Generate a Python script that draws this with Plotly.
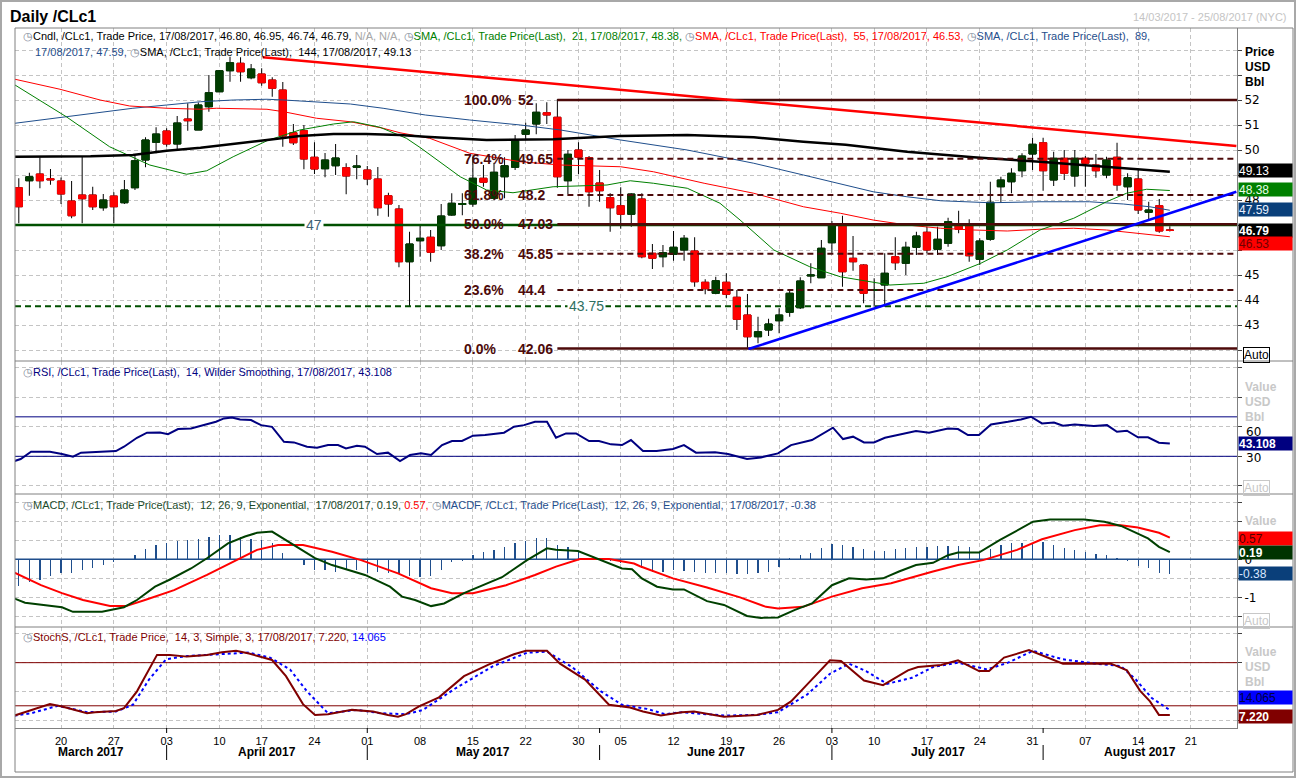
import pandas as pd
import plotly.graph_objects as go
from plotly.subplots import make_subplots

# ---------------- data ----------------
HOLIDAYS = ["2017-04-14", "2017-05-29", "2017-07-04"]
trading_days = [d.strftime("%Y-%m-%d") for d in pd.bdate_range("2017-03-14", "2017-08-25")
                if d.strftime("%Y-%m-%d") not in HOLIDAYS]
pos = {d: i for i, d in enumerate(trading_days)}

opens = [48.49, 48.77, 49.04, 48.85, 48.76, 47.96, 48.20, 48.20, 47.69, 48.16,
         47.89, 48.49, 49.60, 50.31, 50.76, 50.24, 51.24, 50.80, 51.73, 52.33,
         53.17, 53.47, 52.89, 53.04, 52.80, 52.40, 50.69, 50.77, 49.71, 49.25,
         49.37, 49.29, 49.31, 49.20, 48.84, 48.17, 47.64, 45.53, 46.37, 46.51,
         46.17, 47.40, 47.82, 47.84, 48.87, 48.07, 48.93, 49.31, 50.63, 51.04,
         51.49, 51.31, 48.77, 50.00, 49.69, 48.68, 48.09, 47.77, 47.43, 48.04,
         45.87, 45.73, 45.83, 46.00, 45.96, 44.71, 44.27, 44.71, 44.11, 43.40,
         42.53, 42.80, 43.17, 43.51, 43.69, 44.96, 44.89, 46.29, 47.04, 45.67,
         45.40, 44.38, 44.60, 45.73, 45.47, 46.11, 46.71, 46.03, 46.27, 46.97,
         46.96, 45.63, 46.43, 48.53, 48.73, 49.17, 49.84, 50.29, 48.80, 49.67,
         48.96, 49.67, 49.40, 49.00, 49.71, 48.53, 48.84, 47.51, 47.77, 46.80]
highs = [48.87, 49.09, 49.71, 49.24, 48.90, 48.76, 49.73, 48.53, 48.24, 48.31,
         48.80, 49.76, 50.51, 50.91, 50.87, 51.36, 51.87, 51.90, 53.00, 53.20,
         53.73, 53.71, 53.44, 53.27, 52.91, 52.72, 51.04, 51.00, 50.31, 49.88,
         50.24, 49.47, 49.80, 49.36, 49.32, 48.29, 47.80, 46.73, 47.04, 46.80,
         47.84, 48.27, 48.27, 49.73, 49.40, 49.49, 49.71, 50.60, 51.09, 51.87,
         51.91, 52.04, 50.00, 50.31, 49.76, 49.20, 48.27, 48.51, 48.27, 48.27,
         46.24, 46.20, 46.76, 46.60, 46.51, 44.83, 44.93, 45.07, 44.40, 44.24,
         43.33, 43.25, 43.67, 44.43, 44.91, 45.47, 46.40, 47.16, 47.37, 46.56,
         45.43, 44.87, 45.87, 46.51, 46.33, 46.73, 46.93, 46.93, 47.29, 47.57,
         47.23, 46.47, 48.73, 48.93, 49.27, 49.87, 50.49, 50.49, 49.93, 50.00,
         50.00, 49.76, 49.84, 49.73, 50.29, 49.07, 49.20, 47.93, 48.04, 46.95]
lows = [47.07, 48.17, 48.47, 48.61, 47.84, 47.27, 47.07, 47.60, 47.57, 47.07,
        47.84, 48.40, 49.31, 49.87, 50.13, 50.00, 50.77, 50.80, 51.53, 52.33,
        52.73, 52.73, 52.83, 52.57, 52.13, 50.13, 50.20, 49.23, 49.04, 48.91,
        49.00, 48.23, 48.83, 48.60, 47.37, 47.33, 45.31, 43.76, 45.73, 45.53,
        46.00, 47.37, 47.39, 47.73, 48.53, 48.00, 48.07, 49.20, 50.43, 50.63,
        51.04, 48.49, 48.24, 49.03, 47.73, 47.93, 46.73, 46.85, 46.93, 45.67,
        45.24, 45.31, 45.57, 45.57, 44.53, 44.23, 44.23, 44.07, 42.80, 42.09,
        42.27, 42.56, 42.67, 43.33, 43.64, 44.67, 44.89, 45.89, 44.53, 45.17,
        43.87, 43.73, 43.73, 45.20, 45.00, 45.80, 45.87, 45.80, 46.13, 46.67,
        45.53, 45.40, 46.37, 47.89, 48.27, 48.91, 49.20, 48.37, 48.56, 48.80,
        48.53, 48.53, 48.89, 48.87, 48.37, 48.00, 47.44, 47.17, 46.69, 46.74]
closes = [47.73, 48.93, 48.77, 48.81, 48.24, 47.37, 48.05, 47.73, 48.00, 47.73,
          48.40, 49.57, 50.40, 50.64, 50.24, 51.08, 51.17, 51.80, 52.29, 53.17,
          53.49, 53.13, 53.24, 52.69, 52.47, 50.56, 50.29, 49.64, 49.24, 49.60,
          49.68, 48.96, 49.36, 48.84, 47.69, 47.84, 45.53, 46.24, 46.47, 45.91,
          47.36, 47.87, 47.86, 48.87, 48.71, 49.11, 49.37, 50.37, 50.80, 51.51,
          51.40, 48.93, 49.83, 49.71, 48.33, 48.37, 47.69, 47.43, 48.24, 45.73,
          45.67, 45.89, 46.11, 46.47, 44.73, 44.45, 44.77, 44.23, 43.23, 42.53,
          42.73, 43.04, 43.40, 44.27, 44.76, 45.00, 46.07, 47.04, 45.13, 45.53,
          44.27, 44.41, 45.07, 45.49, 46.11, 46.56, 46.00, 46.43, 47.13, 46.83,
          45.77, 46.36, 47.91, 48.80, 49.07, 49.76, 50.23, 49.17, 49.67, 49.07,
          49.67, 49.47, 49.17, 49.60, 48.60, 48.89, 47.60, 47.60, 46.76, 46.79]

# moving averages (trading-day position, value)
sma21_x = [-0.36, 4.5, 8.6, 12.4, 15.9, 17.8, 20.3, 23.5, 26.6, 29.8, 31.7, 34.2, 36.7, 38.0,
           41.8, 44.3, 46.8, 50.6, 55.7, 57.9, 60.1, 63.3, 66.4, 68.3, 71.5, 74.9, 77.8, 79.7,
           82.5, 85.7, 87.9, 91.1, 93.6, 96.7, 99.9, 103.0, 104.9, 106.8, 109.0]
sma21_y = [52.6, 51.33, 50.13, 49.4, 49.03, 49.17, 49.73, 50.37, 50.8, 51.04, 51.13, 50.91, 50.47, 50.1,
           48.93, 48.4, 48.29, 48.53, 48.6, 48.77, 48.67, 48.47, 47.87, 47.2, 46.0, 45.33, 44.93, 44.8,
           44.6, 44.67, 44.93, 45.47, 46.0, 46.8, 47.27, 47.93, 48.27, 48.43, 48.38]
sma55_x = [-0.36, 3.9, 7.7, 10.5, 14.0, 17.2, 18.7, 23.5, 25.1, 28.2, 31.4, 34.5, 36.1, 38.9,
           42.7, 47.5, 51.3, 57.0, 60.1, 64.9, 69.6, 74.3, 77.8, 80.9, 84.1, 87.3, 90.4, 93.6,
           96.7, 99.9, 103.0, 106.2, 109.0]
sma55_y = [52.83, 52.43, 52.0, 51.76, 51.67, 51.63, 51.67, 51.63, 51.53, 51.27, 51.13, 50.87, 50.69, 50.47,
           49.87, 49.53, 49.4, 49.33, 49.13, 48.67, 48.27, 47.73, 47.47, 47.2, 47.0, 46.87, 46.8, 46.76,
           46.83, 46.87, 46.8, 46.67, 46.53]
sma89_x = [-0.36, 4.5, 10.8, 14.0, 17.2, 20.3, 23.5, 25.1, 28.2, 31.4, 34.5, 38.5, 42.7, 47.5,
           51.3, 57.0, 63.3, 69.6, 74.3, 78.3, 80.9, 84.1, 87.3, 92.0, 96.7, 101.4, 104.6, 107.1, 109.0]
sma89_y = [51.07, 51.33, 51.67, 51.8, 51.93, 52.0, 52.03, 52.0, 51.91, 51.84, 51.67, 51.4, 51.2, 51.0,
           50.8, 50.4, 50.0, 49.47, 49.0, 48.58, 48.33, 48.13, 47.97, 47.89, 47.93, 47.93, 47.84, 47.73, 47.59]
sma144_x = [-0.36, 6.8, 10.8, 14.0, 17.2, 20.3, 23.5, 26.6, 29.8, 32.9, 36.1, 38.5, 44.3, 50.6,
            56.9, 63.3, 69.6, 74.3, 78.3, 84.1, 90.4, 96.7, 103.0, 109.0]
sma144_y = [49.73, 49.75, 49.8, 49.97, 50.09, 50.23, 50.4, 50.56, 50.64, 50.64, 50.6, 50.53, 50.4, 50.43,
            50.56, 50.6, 50.51, 50.33, 50.21, 49.93, 49.71, 49.53, 49.33, 49.13]

# drawing tools
fib_pct = ["100.0%", "76.4%", "61.8%", "50.0%", "38.2%", "23.6%", "0.0%"]
fib_val = [52.0, 49.65, 48.2, 47.03, 45.85, 44.4, 42.06]
fib_txt = ["52", "49.65", "48.2", "47.03", "45.85", "44.4", "42.06"]
fib_start = "2017-05-25"
level_lines = [47.0, 43.75]
level_txt = ["47", "43.75"]
level_label_x = [28.0, 53.8]
red_trend_x = [23.1, 115.3]
red_trend_y = [53.71, 50.16]
blue_trend_x = [69.1, 115.3]
blue_trend_y = [42.04, 48.33]

# RSI 14
rsi_x = [-0.41, 0.18, 1.16, 2.95, 4.09, 5.13, 5.89, 7.69, 9.20, 9.96,
         11.19, 12.14, 13.37, 14.13, 15.08, 16.31, 17.44, 18.67, 19.43, 20.19,
         20.95, 21.99, 22.94, 23.98, 25.11, 26.06, 27.29, 28.24, 29.28, 30.23,
         30.98, 32.02, 32.78, 33.92, 34.96, 36.1, 37.05, 38.09, 39.04, 40.08,
         41.02, 41.97, 43.01, 44.15, 45.95, 46.89, 47.84, 48.88, 50.02, 50.87,
         51.82, 52.77, 54.0, 54.94, 56.08, 57.12, 57.97, 59.11, 60.4, 61.95,
         62.99, 64.13, 65.93, 67.16, 68.96, 70.28, 71.89, 73.13, 75.11, 77.1,
         78.05, 79.0, 80.04, 80.98, 82.02, 83.35, 84.96, 86.19, 87.99, 88.94,
         89.88, 90.93, 92.06, 93.67, 94.9, 95.85, 96.89, 98.03, 98.88, 100.0,
         101.8, 103.05, 103.99, 104.94, 105.98, 106.93, 107.97, 109.0]
rsi_y = [25.2, 27.2, 34.6, 34.6, 32.3, 29.6, 33.7, 34.6, 35.3, 39.7,
         48.8, 53.9, 54.2, 52.5, 57.6, 58.2, 61.6, 65.0, 68.4, 69.4,
         67.4, 66.7, 61.6, 59.9, 44.7, 44.1, 39.7, 38.7, 41.4, 41.4,
         38.0, 40.7, 39.7, 32.3, 33.7, 25.2, 31.3, 33.0, 31.3, 41.4,
         45.5, 45.5, 50.9, 51.6, 53.9, 60.0, 61.6, 65.0, 65.0, 48.8,
         53.2, 53.2, 45.5, 45.5, 42.1, 41.4, 46.5, 35.3, 35.3, 37.4,
         41.4, 33.7, 34.0, 32.3, 27.2, 28.9, 33.0, 41.4, 46.5, 59.0,
         47.5, 49.9, 44.1, 44.1, 48.8, 51.6, 55.6, 53.9, 58.2, 57.6,
         51.6, 51.6, 62.3, 65.0, 67.4, 70.1, 63.3, 64.3, 61.0, 62.3,
         60.6, 61.6, 54.9, 55.9, 49.2, 49.2, 43.8, 43.108]
rsi_levels = [70, 30]

# MACD 12/26/9
macd_x = [-0.41, 0.59, 4.09, 5.13, 7.88, 9.96, 11.19, 12.9, 14.32, 16.31,
          17.82, 19.81, 21.42, 22.56, 23.98, 25.68, 28.05, 29.66, 32.78, 35.15,
          36.29, 37.52, 39.04, 40.27, 42.16, 45.76, 48.13, 50.02, 50.87, 52.95,
          55.13, 57.12, 58.07, 59.0, 60.44, 61.95, 62.99, 65.17, 66.78, 68.96,
          70.28, 71.89, 73.5, 75.11, 77.0, 78.62, 80.23, 81.84, 83.35, 84.96,
          86.57, 87.99, 88.94, 90.93, 92.92, 96.04, 97.65, 100.87, 102.8, 104.38,
          106.93, 107.97, 109.0]
macd_y = [-1.03, -1.14, -1.26, -1.38, -1.38, -1.26, -1.07, -0.72, -0.53, -0.24,
          0.03, 0.42, 0.60, 0.70, 0.73, 0.44, 0.03, -0.15, -0.41, -0.72,
          -0.98, -1.07, -1.23, -1.16, -0.89, -0.47, -0.02, 0.29, 0.25, 0.22,
          -0.02, -0.24, -0.26, -0.50, -0.72, -0.79, -0.79, -1.10, -1.20, -1.49,
          -1.54, -1.53, -1.33, -1.16, -0.68, -0.50, -0.53, -0.50, -0.32, -0.15,
          -0.09, 0.11, 0.18, 0.18, 0.51, 0.99, 1.05, 1.05, 0.99, 0.88,
          0.55, 0.33, 0.19]
signal_x = [-0.41, 2.1, 4.09, 6.08, 8.64, 10.16, 11.95, 14.7, 17.82, 20.57,
            22.56, 24.55, 26.91, 29.66, 32.41, 35.91, 39.04, 41.02, 43.01, 46.14,
            48.88, 50.87, 53.14, 55.89, 58.26, 58.83, 61.95, 65.17, 68.3, 70.76,
            71.89, 74.26, 77.0, 79.85, 82.6, 86.57, 88.94, 91.31, 94.53, 96.89,
            100.0, 102.37, 104.36, 105.97, 107.97, 109.0]
signal_y = [-0.35, -0.68, -0.89, -1.07, -1.23, -1.23, -1.07, -0.81, -0.41, -0.02,
            0.25, 0.38, 0.38, 0.20, -0.02, -0.37, -0.76, -0.89, -0.89, -0.68,
            -0.41, -0.19, 0.01, 0.01, -0.11, -0.18, -0.50, -0.74, -1.00, -1.25,
            -1.29, -1.25, -0.98, -0.76, -0.63, -0.32, -0.15, -0.02, 0.25, 0.53,
            0.77, 0.90, 0.90, 0.84, 0.70, 0.57]
macd_hist = [-0.70, -0.59, -0.53, -0.44, -0.37, -0.35, -0.28, -0.24, -0.15, -0.06,
             -0.02, 0.11, 0.26, 0.38, 0.42, 0.49, 0.51, 0.53, 0.60, 0.64,
             0.64, 0.60, 0.53, 0.51, 0.44, 0.18, 0.01, -0.15, -0.28, -0.28,
             -0.32, -0.28, -0.28, -0.35, -0.32, -0.35, -0.39, -0.44, -0.47, -0.44,
             -0.28, -0.06, -0.04, 0.11, 0.20, 0.25, 0.33, 0.42, 0.49, 0.55,
             0.55, 0.38, 0.32, 0.20, 0.01, -0.01, -0.04, -0.09, -0.02, -0.22,
             -0.32, -0.32, -0.28, -0.30, -0.32, -0.37, -0.37, -0.35, -0.39, -0.39,
             -0.37, -0.32, -0.21, 0.03, 0.11, 0.18, 0.29, 0.40, 0.38, 0.33,
             0.27, 0.22, 0.22, 0.26, 0.30, 0.32, 0.33, 0.36, 0.36, 0.36,
             0.33, 0.20, 0.26, 0.38, 0.42, 0.42, 0.44, 0.46, 0.38, 0.29,
             0.25, 0.20, 0.14, 0.11, 0.03, -0.04, -0.18, -0.24, -0.35, -0.38]

# Slow stochastics 14/3/3
stk_x = [-0.41, 1.16, 2.95, 4.09, 6.46, 7.22, 9.2, 9.96, 11.19, 13.09,
         14.32, 15.93, 17.82, 19.24, 20.57, 21.8, 23.98, 25.3, 26.91, 28.05,
         29.28, 31.55, 33.54, 34.96, 35.91, 36.67, 37.9, 39.79, 42.16, 44.53,
         46.89, 48.03, 50.02, 51.25, 53.62, 55.89, 57.88, 59.11, 60.8, 62.8,
         63.94, 66.78, 69.9, 71.89, 73.13, 74.64, 76.82, 77.86, 80.04, 81.84,
         84.2, 85.15, 87.33, 88.94, 90.93, 91.88, 93.3, 95.66, 98.88, 103.43,
         104.94, 106.17, 107.12, 107.97, 109.0]
stk_y = [6.4, 14.3, 22.3, 19.0, 9.6, 11.0, 12.9, 16.7, 40.1, 90.8,
         90.8, 88.4, 90.8, 94.5, 96.4, 92.7, 83.7, 61.2, 22.3, 7.3,
         8.3, 14.3, 12.0, 7.3, 4.9, 8.3, 19.1, 31.7, 61.2, 77.6,
         91.7, 96.4, 96.4, 78.6, 56.5, 21.4, 17.7, 12.0, 6.4, 11.1,
         12.0, 4.9, 7.3, 14.3, 26.1, 49.5, 83.3, 82.4, 55.1, 48.6,
         69.2, 73.9, 76.7, 83.3, 68.3, 68.3, 87.0, 97.4, 78.6, 78.6,
         69.2, 41.1, 26.1, 7.3, 7.22]
std_x = [-0.41, 1.16, 3.71, 6.46, 9.2, 10.81, 12.33, 13.94, 15.93, 18.67,
         21.8, 23.79, 25.68, 27.29, 29.28, 32.02, 34.3, 36.67, 38.28, 41.4,
         44.91, 48.13, 50.02, 52.39, 55.13, 57.12, 59.49, 61.2, 62.8, 66.78,
         69.9, 71.89, 74.64, 76.82, 78.62, 80.23, 82.22, 84.58, 86.57, 88.94,
         91.69, 93.67, 96.04, 98.88, 102.0, 104.36, 105.78, 107.29, 109.0]
std_y = [6.4, 9.6, 20.0, 11.1, 12.0, 21.4, 56.5, 84.6, 89.3, 91.7,
         94.0, 87.0, 70.6, 40.1, 9.6, 14.3, 9.6, 8.3, 14.3, 44.7,
         75.1, 93.8, 95.3, 73.9, 40.1, 21.4, 15.7, 8.3, 11.1, 6.4,
         7.3, 11.1, 35.5, 64.6, 78.6, 68.3, 50.5, 58.9, 73.9, 80.0,
         70.6, 80.0, 96.4, 84.6, 78.6, 75.3, 56.5, 30.8, 14.065]
stoch_levels = [80, 20]

week_ticks = ["2017-03-20", "2017-03-27", "2017-04-03", "2017-04-10", "2017-04-17", "2017-04-24",
              "2017-05-01", "2017-05-08", "2017-05-15", "2017-05-22", "2017-05-30", "2017-06-05",
              "2017-06-12", "2017-06-19", "2017-06-26", "2017-07-03", "2017-07-10", "2017-07-17",
              "2017-07-24", "2017-07-31", "2017-08-07", "2017-08-14", "2017-08-21"]
month_names = ["March 2017", "April 2017", "May 2017", "June 2017", "July 2017", "August 2017"]
month_starts = ["2017-04-03", "2017-05-01", "2017-06-01", "2017-07-03", "2017-08-01"]

# ---------------- layout constants ----------------
W, H = 1296, 778
L, R, T, B = 15, 1237, 28, 728
XR = [-0.36, 115.36]
FONT = "Liberation Sans"
GRID = "#c4c4c4"
GREEN_C, RED_C = "#003d00", "#ff0000"
FIBC = "#4d0a0a"


def px(xp):
    return (xp - L) / (R - L)


def py(yp):
    return (B - yp) / (B - T)


xs = list(range(len(opens)))
fig = make_subplots(rows=4, cols=1, shared_xaxes=True, vertical_spacing=0)

# candles: wicks/outline + bodies
fig.add_trace(go.Candlestick(x=xs, open=opens, high=highs, low=lows, close=closes,
                             increasing=dict(line=dict(color="#000000", width=1), fillcolor=GREEN_C),
                             decreasing=dict(line=dict(color="#000000", width=1), fillcolor=RED_C),
                             hoverinfo="skip"), row=1, col=1)
fig.add_trace(go.Candlestick(x=xs, open=opens, close=closes,
                             high=[max(o, c) for o, c in zip(opens, closes)],
                             low=[min(o, c) for o, c in zip(opens, closes)],
                             increasing=dict(line=dict(color=GREEN_C, width=1), fillcolor=GREEN_C),
                             decreasing=dict(line=dict(color=RED_C, width=1), fillcolor=RED_C),
                             hoverinfo="skip"), row=1, col=1)

# moving averages
for sx, sy, col, w in [(sma89_x, sma89_y, "#1f4e8c", 1), (sma55_x, sma55_y, "#ff0000", 1),
                       (sma21_x, sma21_y, "#008000", 1), (sma144_x, sma144_y, "#000000", 2.5)]:
    fig.add_trace(go.Scatter(x=sx, y=sy, mode="lines", line=dict(color=col, width=w), hoverinfo="skip"),
                  row=1, col=1)

# horizontal levels 47 / 43.75
fig.add_trace(go.Scatter(x=[XR[0], XR[1]], y=[level_lines[0]] * 2, mode="lines",
                         line=dict(color="#005000", width=2.5), hoverinfo="skip"), row=1, col=1)
fig.add_trace(go.Scatter(x=[XR[0], XR[1]], y=[level_lines[1]] * 2, mode="lines",
                         line=dict(color="#005000", width=2, dash="6px,4px"), hoverinfo="skip"), row=1, col=1)

# fibonacci
fs = pos[fib_start]
for pct, v in zip(fib_pct, fib_val):
    solid = pct in ("100.0%", "50.0%", "0.0%")
    fig.add_trace(go.Scatter(x=[fs, XR[1]], y=[v, v], mode="lines",
                             line=dict(color=FIBC, width=2.5 if solid else 2,
                                       dash="solid" if solid else "6px,4px"),
                             hoverinfo="skip"), row=1, col=1)

# trend lines
fig.add_trace(go.Scatter(x=red_trend_x, y=red_trend_y, mode="lines", line=dict(color="#ff0000", width=2.5),
                         hoverinfo="skip"), row=1, col=1)
fig.add_trace(go.Scatter(x=blue_trend_x, y=blue_trend_y, mode="lines", line=dict(color="#0000ff", width=2.5),
                         hoverinfo="skip"), row=1, col=1)

# RSI
for lv in rsi_levels:
    fig.add_trace(go.Scatter(x=[XR[0], XR[1]], y=[lv, lv], mode="lines", line=dict(color="#000080", width=1),
                             hoverinfo="skip"), row=2, col=1)
fig.add_trace(go.Scatter(x=rsi_x, y=rsi_y, mode="lines", line=dict(color="#000080", width=2),
                         hoverinfo="skip"), row=2, col=1)

# MACD
fig.add_trace(go.Scatter(x=[XR[0], XR[1]], y=[0, 0], mode="lines", line=dict(color="#1f4e8c", width=1.5),
                         hoverinfo="skip"), row=3, col=1)
fig.add_trace(go.Bar(x=xs, y=macd_hist, width=0.12, marker=dict(color="#1f4e8c", line=dict(width=0)),
                     hoverinfo="skip"), row=3, col=1)
fig.add_trace(go.Scatter(x=signal_x, y=signal_y, mode="lines", line=dict(color="#ff0000", width=2),
                         hoverinfo="skip"), row=3, col=1)
fig.add_trace(go.Scatter(x=macd_x, y=macd_y, mode="lines", line=dict(color="#004000", width=2),
                         hoverinfo="skip"), row=3, col=1)

# Stochastics
for lv in stoch_levels:
    fig.add_trace(go.Scatter(x=[XR[0], XR[1]], y=[lv, lv], mode="lines", line=dict(color="#800000", width=1),
                             hoverinfo="skip"), row=4, col=1)
fig.add_trace(go.Scatter(x=std_x, y=std_y, mode="lines", line=dict(color="#0000ff", width=2, dash="3px,3px"),
                         hoverinfo="skip"), row=4, col=1)
fig.add_trace(go.Scatter(x=stk_x, y=stk_y, mode="lines", line=dict(color="#800000", width=2),
                         hoverinfo="skip"), row=4, col=1)

# ---------------- axes ----------------
tick_pos = [pos[d] for d in week_ticks]
tick_txt = [d[-2:] for d in week_ticks]
fig.update_xaxes(range=XR, tickvals=tick_pos, ticktext=tick_txt, showgrid=True, gridcolor=GRID,
                 griddash="4px,3px", gridwidth=1, zeroline=False, ticks="", rangeslider_visible=False)
fig.update_xaxes(showticklabels=True, tickfont=dict(size=11, color="#000", family=FONT),
                 showline=True, linecolor="#808080", linewidth=1, ticklabelstandoff=3, row=4, col=1)

yax = dict(side="right", showgrid=True, gridcolor=GRID, griddash="4px,3px", zeroline=False,
           ticks="outside", ticklen=4, tickcolor="#404040", showline=True, linecolor="#808080",
           linewidth=1, tickfont=dict(size=12, color="#000", family="DejaVu Sans"), fixedrange=True)
price_ticks = list(range(42, 55))
price_labels = [43, 44, 45, 48, 50, 51, 52]
fig.update_layout(
    yaxis=dict(yax, domain=[py(361), 1], range=[41.56, 54.88], tickvals=price_ticks,
               ticktext=[str(t) if t in price_labels else "" for t in price_ticks]),
    yaxis2=dict(yax, domain=[py(494), py(361)], range=[-8.2, 126.6], tickvals=[0, 30, 60, 90, 120],
                ticktext=["", "", "", "", ""]),
    yaxis3=dict(yax, domain=[py(627), py(494)], range=[-1.78, 1.72],
                tickvals=[-1.5, -1, -0.5, 0, 0.5, 1, 1.5], ticktext=["", "-1", "", "0", "", "", ""]),
    yaxis4=dict(yax, domain=[0, py(627)], range=[-10.9, 129.6], tickvals=[0, 40, 80, 120],
                ticktext=["", "", "", ""]),
)

fig.update_layout(width=W, height=H, margin=dict(l=L, r=W - R, t=T, b=H - B),
                  paper_bgcolor="white", plot_bgcolor="white", showlegend=False,
                  boxgap=0.2, boxgroupgap=0.15, bargap=0, hovermode=False,
                  font=dict(family=FONT, size=11, color="#000"))

# ---------------- annotations ----------------
anns = []


def txt(xp, yp, text, size=11, color="#000", anchor="left", bg=None, family=FONT, **kw):
    d = dict(x=px(xp), y=py(yp), xref="paper", yref="paper", text=text, showarrow=False,
             xanchor=anchor, yanchor="middle", font=dict(size=size, color=color, family=family))
    if bg:
        d["bgcolor"] = bg
    d.update(kw)
    anns.append(d)


ICON = '<span style="color:#7a8696">◷</span>'
txt(8, 17, "<b>Daily /CLc1</b>", size=16)
txt(1289, 17, "14/03/2017 - 25/08/2017 (NYC)", size=11, color="#c4c4c4", anchor="right")

line1 = (ICON + "Cndl, /CLc1, Trade Price, 17/08/2017, %.2f, %.2f, %.2f, %.2f, " % (opens[-1], highs[-1], lows[-1], closes[-1])
         + '<span style="color:#a8a8a8">N/A, N/A, </span>'
         + ICON + '<span style="color:#008000">SMA, /CLc1, Trade Price(Last),  21, 17/08/2017, %.2f, </span>' % sma21_y[-1]
         + ICON + '<span style="color:#ff0000">SMA, /CLc1, Trade Price(Last),  55, 17/08/2017, %.2f, </span>' % sma55_y[-1]
         + ICON + '<span style="color:#1f4e8c">SMA, /CLc1, Trade Price(Last),  89,</span>')
line2 = ('<span style="color:#1f4e8c">17/08/2017, %.2f, </span>' % sma89_y[-1]
         + ICON + "SMA, /CLc1, Trade Price(Last),  144, 17/08/2017, %.2f" % sma144_y[-1])
txt(21, 36, line1)
txt(33, 52, line2)
txt(21, 372, ICON + '<span style="color:#000080">RSI, /CLc1, Trade Price(Last),  14, Wilder Smoothing, 17/08/2017, %.3f</span>' % rsi_y[-1])
txt(21, 505, ICON + '<span style="color:#1a4a2a">MACD, /CLc1, Trade Price(Last),  12, 26, 9, Exponential,  17/08/2017, %.2f, </span>' % macd_y[-1]
    + '<span style="color:#ff0000">%.2f, </span>' % signal_y[-1]
    + ICON + '<span style="color:#1f4e8c">MACDF, /CLc1, Trade Price(Last),  12, 26, 9, Exponential,  17/08/2017, %.2f</span>' % macd_hist[-1])
txt(21, 637, ICON + '<span style="color:#800000">StochS, /CLc1, Trade Price,  14, 3, Simple, 3, 17/08/2017, %.3f, </span>' % stk_y[-1]
    + '<span style="color:#0000ff">%.3f</span>' % std_y[-1])

# right-hand captions
for yy, t in [(52, "Price"), (67, "USD"), (82, "Bbl")]:
    txt(1243, yy, "<b>%s</b>" % t, size=12)
for yy, t in [(387, "Value"), (402, "USD"), (417, "Bbl"), (521, "Value"),
              (652, "Value"), (667, "USD"), (682, "Bbl")]:
    txt(1243, yy, "<b>%s</b>" % t, size=12, color="#c8c8c8")
# RSI scale labels (Eikon nudges "60" below its tick to clear the caption)
txt(1244, 432, "60", size=12, family="DejaVu Sans")
txt(1244, 458, "30", size=12, family="DejaVu Sans")
txt(1243, 355, "Auto", size=12, bordercolor="#000", borderwidth=1, borderpad=0)
for yy in (488, 621):
    txt(1243, yy, "Auto", size=12, color="#c8c8c8", bordercolor="#c8c8c8", borderwidth=1, borderpad=0)

# last-value boxes
boxes = [(170.5, "%.2f" % sma144_y[-1], "#000000", "#ffffff", False),
         (189.5, "%.2f" % sma21_y[-1], "#008000", "#e8ffe8", False),
         (209.5, "%.2f" % sma89_y[-1], "#0a3f7a", "#e8f0ff", False),
         (230.5, "%.2f" % closes[-1], "#000000", "#ffffff", True),
         (243, "%.2f" % sma55_y[-1], "#ff0000", "#700000", False),
         (443, "%.3f" % rsi_y[-1], "#000080", "#ffffff", True),
         (538, "%.2f" % signal_y[-1], "#ff0000", "#500000", False),
         (552, "%.2f" % macd_y[-1], "#003300", "#ffffff", True),
         (573, "%.2f" % macd_hist[-1], "#0a3f7a", "#d8e6ff", False),
         (697, "%.3f" % std_y[-1], "#0000ff", "#000040", False),
         (716, "%.3f" % stk_y[-1], "#800000", "#ffffff", True)]
for yy, t, bgc, fc, bold in boxes:
    txt(1238, yy, ("<b>%s</b>" % t) if bold else t, size=12, color=fc, bg=bgc,
        width=53, height=13, align="left", borderpad=0)

# fib labels
for pct, v, t in zip(fib_pct, fib_val, fib_txt):
    for label, shift in ((pct, -95), (t, -41)):
        anns.append(dict(x=fs, y=v, xref="x", yref="y", text="<b>%s</b>" % label, showarrow=False,
                         xanchor="left", yanchor="middle", xshift=shift,
                         font=dict(size=14, color=FIBC, family=FONT)))
for lx, lv, lt, col in zip(level_label_x, level_lines, level_txt, ["#3d5f73", "#2f6f5f"]):
    anns.append(dict(x=lx, y=lv, xref="x", yref="y", text=lt, showarrow=False, xanchor="center",
                     yanchor="middle", bgcolor="white", font=dict(size=14, color=col, family=FONT)))

# month labels
bounds = [XR[0]] + [pos[d] for d in month_starts] + [XR[1]]
for k, name in enumerate(month_names):
    c = (bounds[k] + bounds[k + 1]) / 2
    anns.append(dict(x=c, y=py(752), xref="x4", yref="paper", text="<b>%s</b>" % name, showarrow=False,
                     xanchor="center", yanchor="middle", font=dict(size=12, color="#000", family=FONT)))

fig.update_layout(annotations=anns)

# ---------------- frames / separators ----------------
shapes = [
    dict(type="rect", xref="paper", yref="paper", x0=px(1), x1=px(1295), y0=py(777), y1=py(1),
         line=dict(color="#a8a8a8", width=2)),
    dict(type="rect", xref="paper", yref="paper", x0=px(15), x1=px(1293), y0=py(772), y1=py(28),
         line=dict(color="#808080", width=1)),
]
for yy in (361, 494, 627):
    shapes.append(dict(type="line", xref="paper", yref="paper", x0=px(15), x1=px(1293), y0=py(yy), y1=py(yy),
                       line=dict(color="#808080", width=1)))
for d in month_starts:
    shapes.append(dict(type="line", xref="x4", yref="paper", x0=pos[d], x1=pos[d], y0=py(745), y1=py(760),
                       line=dict(color="#000", width=1)))
    shapes.append(dict(type="line", xref="x4", yref="paper", x0=pos[d], x1=pos[d], y0=py(728), y1=py(733),
                       line=dict(color="#000", width=1)))
fig.update_layout(shapes=shapes)

fig.write_html("out.html", config={"displayModeBar": False, "staticPlot": True},
               post_script="document.body.style.margin='0';document.body.style.overflow='hidden';")
